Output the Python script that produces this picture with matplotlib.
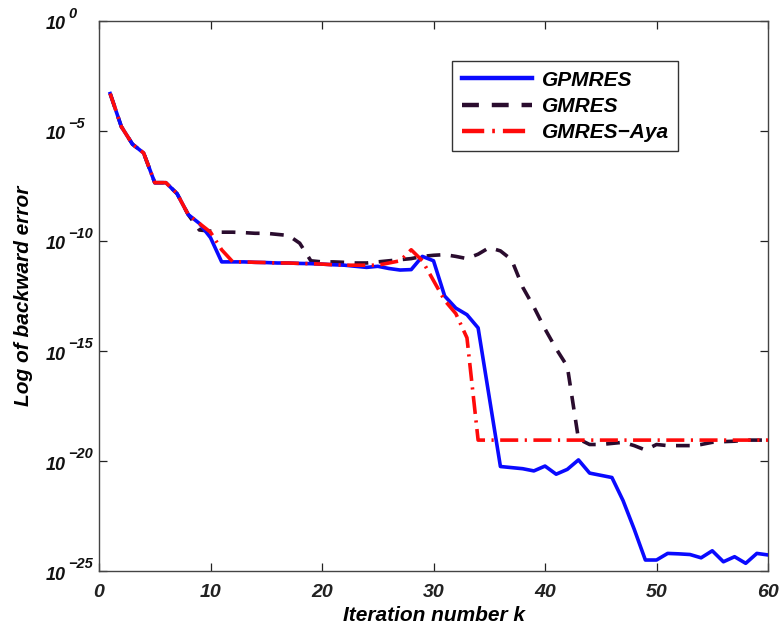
import numpy as np
import matplotlib
matplotlib.use("Agg")
import matplotlib.pyplot as plt
from matplotlib.transforms import blended_transform_factory, ScaledTranslation

# ── données (exposants log10 de l'erreur) ──
iters = list(range(1, 61))

gpmres_exp = [
    -3.3, -4.8, -5.6, -6.0, -7.35, -7.35, -7.85, -8.8, -9.2, -9.85,
    -10.95, -10.95, -10.95, -10.97, -10.98, -11.0, -11.0, -11.02, -11.03, -11.05,
    -11.08, -11.1, -11.15, -11.2, -11.15, -11.25, -11.32, -11.3, -10.7, -10.9,
    -12.5, -13.05, -13.35, -13.95, -17.1, -20.25, -20.3, -20.35, -20.45, -20.23,
    -20.6, -20.38, -19.95, -20.55, -20.65, -20.75, -21.8, -23.1, -24.5, -24.5,
    -24.2, -24.22, -24.25, -24.4, -24.08, -24.58, -24.35, -24.65, -24.2, -24.27,
]

gmres_exp = [
    -3.3, -4.8, -5.6, -6.0, -7.35, -7.35, -7.85, -8.8, -9.5, -9.55,
    -9.6, -9.6, -9.62, -9.65, -9.65, -9.7, -9.75, -10.1, -10.9, -10.95,
    -10.95, -10.97, -11.0, -11.0, -10.95, -10.9, -10.85, -10.8, -10.7, -10.65,
    -10.62, -10.7, -10.8, -10.6, -10.3, -10.45, -10.85, -12.1, -13.0, -14.0,
    -14.9, -15.7, -19.0, -19.25, -19.25, -19.2, -19.15, -19.3, -19.5, -19.25,
    -19.3, -19.3, -19.3, -19.25, -19.15, -19.12, -19.1, -19.05, -19.05, -19.05,
]

aya_exp = [
    -3.3, -4.8, -5.6, -6.0, -7.35, -7.35, -7.85, -8.8, -9.2, -9.6,
    -10.4, -10.95, -10.95, -10.97, -10.98, -11.0, -11.0, -11.02, -11.03, -11.05,
    -11.08, -11.1, -11.1, -11.1, -11.1, -11.0, -10.9, -10.4, -10.9, -11.8,
    -12.7, -13.3, -14.4, -19.05, -19.05, -19.05, -19.05, -19.05, -19.05, -19.05,
    -19.05, -19.05, -19.05, -19.05, -19.05, -19.05, -19.05, -19.05, -19.05, -19.05,
    -19.05, -19.05, -19.05, -19.05, -19.05, -19.05, -19.05, -19.05, -19.05, -19.05,
]

x_ticks = [0, 10, 20, 30, 40, 50, 60]
y_tick_exps = [0, -5, -10, -15, -20, -25]

# ── style ──
plt.rcParams["font.family"] = ["Liberation Sans", "DejaVu Sans"]
plt.rcParams["font.weight"] = "bold"
plt.rcParams["font.style"] = "italic"
plt.rcParams["axes.labelweight"] = "bold"

fig = plt.figure(figsize=(7.84, 6.32), dpi=100)
ax = fig.add_axes([0.1263, 0.0965, 0.8533, 0.8703])

ax.plot(iters, 10.0 ** np.array(gpmres_exp), color="#0a0aff", lw=2.6,
        label="GPMRES", zorder=3)
ax.plot(iters, 10.0 ** np.array(gmres_exp), color="#2a0c2e", lw=2.6,
        linestyle=(0, (3.8, 2.9)), label="GMRES", zorder=2)
ax.plot(iters, 10.0 ** np.array(aya_exp), color="#ff0a0a", lw=2.6,
        linestyle=(0, (5.0, 1.8, 0.6, 1.8)), label="GMRES\u2212Aya", zorder=4)

ax.set_yscale("log")
ax.set_xlim(0, 60)
ax.set_ylim(1e-25, 1e0)
ax.set_xticks(x_ticks)
ax.set_xticklabels([str(t) for t in x_ticks])
ax.set_yticks([10.0 ** e for e in y_tick_exps])
ax.set_yticklabels([])
ax.yaxis.set_minor_locator(matplotlib.ticker.NullLocator())

ax.tick_params(axis="both", which="major", direction="in", length=6, width=0.9,
               top=True, right=True, colors="#222222")
ax.tick_params(axis="x", labelsize=14, pad=9)
for sp in ax.spines.values():
    sp.set_color("#444444")
    sp.set_linewidth(1.0)

# étiquettes 10^n façon MATLAB : base fixe, exposant décalé vers le haut
ytrans = blended_transform_factory(ax.transAxes, ax.transData)
for e in y_tick_exps:
    base_off = ScaledTranslation(-33 / 100, -8.5 / 100, fig.dpi_scale_trans)
    exp_off = ScaledTranslation(-31 / 100, 3.2 / 100, fig.dpi_scale_trans)
    ax.text(0, 10.0 ** e, "10", transform=ytrans + base_off, ha="right",
            va="baseline", fontsize=13, color="#111111")
    ax.text(0, 10.0 ** e, str(e).replace("-", "\u2212"), transform=ytrans + exp_off,
            ha="left", va="baseline", fontsize=10.5, color="#111111")

ax.set_xlabel("Iteration number k", fontsize=15, labelpad=4)
ax.set_ylabel("Log of backward error", fontsize=15, labelpad=44)

leg = ax.legend(loc="upper left", bbox_to_anchor=(0.528, 0.927), borderaxespad=0,
                fontsize=15, handlelength=3.4, handletextpad=0.45, fancybox=False,
                framealpha=1, edgecolor="#333333", labelspacing=0.35, borderpad=0.45)
leg.get_frame().set_linewidth(1.0)
for h in leg.get_lines():
    h.set_linewidth(3.2)

fig.savefig("out.png", dpi=100, facecolor="white")
